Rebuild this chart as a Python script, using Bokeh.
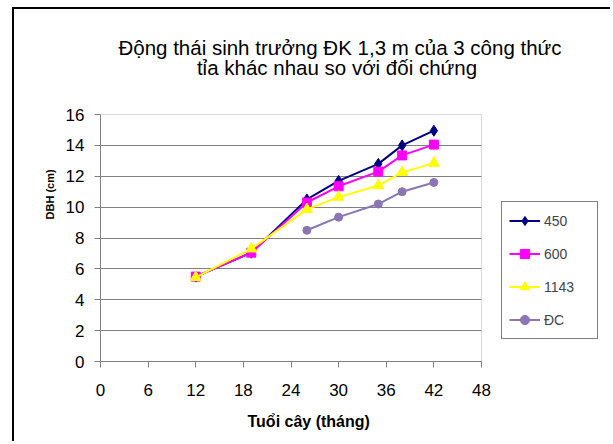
from bokeh.plotting import figure
from bokeh.models import (Range1d, FixedTicker, Legend, LegendItem, Title, Label,
                          BoxAnnotation)
from bokeh.embed import file_html
from bokeh.resources import INLINE

# ---- data ----
months = [12, 19, 26, 30, 35, 38, 42]
dbh_450 = [5.5, 7.05, 10.5, 11.7, 12.8, 14.0, 14.95]
dbh_600 = [5.5, 7.05, 10.3, 11.35, 12.3, 13.35, 14.05]
dbh_1143 = [5.45, 7.3, 9.85, 10.65, 11.4, 12.25, 12.85]
months_dc = [26, 30, 35, 38, 42]
dbh_dc = [8.5, 9.35, 10.2, 11.0, 11.6]
x_ticks = [0, 6, 12, 18, 24, 30, 36, 42, 48]
y_ticks = [0, 2, 4, 6, 8, 10, 12, 14, 16]
series_names = ["450", "600", "1143", "ĐC"]
title_lines = ["Động thái sinh trưởng ĐK 1,3 m của 3 công thức",
               "tỉa khác nhau so với đối chứng"]
x_title = "Tuổi cây (tháng)"
y_title = "DBH (cm)"

FONT = "Liberation Sans"

# ---- layout geometry (page pixels) ----
PLOT_L, PLOT_R, PLOT_T, PLOT_B = 100, 481, 114, 361   # plot area of the chart
CANVAS_X0, CANVAS_Y0 = 14, 9                           # canvas origin inside outer border
W, H = 598, 434
FRAME_R = CANVAS_X0 + W                                # frame runs to the canvas edge
FRAME_T = CANVAS_Y0
xmin, xmax = x_ticks[0], x_ticks[-1]
ymin, ymax = y_ticks[0], y_ticks[-1]
kx = (xmax - xmin) / (PLOT_R - PLOT_L)
ky = (ymax - ymin) / (PLOT_B - PLOT_T)
x_hi = xmin + (FRAME_R - PLOT_L) * kx
y_hi = ymin + (PLOT_B - FRAME_T) * ky


def dx(px):
    return xmin + (px - PLOT_L) * kx


def dy(py):
    return ymin + (PLOT_B - py) * ky


p = figure(width=W, height=H, output_backend="svg", toolbar_location=None, title=None,
           x_range=Range1d(xmin, x_hi), y_range=Range1d(ymin, y_hi),
           min_border_left=PLOT_L - CANVAS_X0, min_border_right=0,
           min_border_top=0, min_border_bottom=CANVAS_Y0 + H - PLOT_B)
p.styles = {"border-left": "2px solid black", "border-top": "2px solid black",
            "margin-left": "12px", "margin-top": "7px"}
p.background_fill_color = "white"
p.border_fill_color = "white"
p.outline_line_color = None

for ax, ticks in ((p.xaxis[0], x_ticks), (p.yaxis[0], y_ticks)):
    ax.ticker = FixedTicker(ticks=ticks)
    ax.bounds = (ticks[0], ticks[-1])
    ax.axis_line_color = "#808080"
    ax.major_tick_line_color = "#808080"
    ax.major_tick_out = 6
    ax.major_tick_in = 0
    ax.minor_tick_line_color = None
    ax.major_label_text_font = FONT
    ax.major_label_text_font_size = "17px"
    ax.major_label_text_color = "black"
p.xaxis.major_label_standoff = 16
p.yaxis.major_label_standoff = 10

p.xgrid.grid_line_color = None
p.ygrid.ticker = FixedTicker(ticks=y_ticks[1:-1])
p.ygrid.grid_line_color = "black"
p.ygrid.grid_line_dash = "1 1"
p.ygrid.grid_line_width = 1

# mask the grid outside the plot area, then draw the plot-area border
p.add_layout(BoxAnnotation(left=xmax, right=x_hi, bottom=ymin, top=ymax,
                           fill_color="white", fill_alpha=1, line_color=None,
                           level="underlay"))
p.add_layout(BoxAnnotation(left=xmin, right=xmax, bottom=ymin, top=ymax,
                           fill_alpha=0, line_color="#808080", line_width=1))

colors = ["#000080", "#FF00FF", "#FFFF00", "#8B75B2"]
xs = [months, months, months, months_dc]
ys = [dbh_450, dbh_600, dbh_1143, dbh_dc]
markers = ["diamond", "square", "triangle", "circle"]
sizes = [11, 9, 11, 8]

items = []
for name, c, x, y, m, s in zip(series_names, colors, xs, ys, markers, sizes):
    ln = p.line(x, y, line_color=c, line_width=2)
    sc = p.scatter(x, y, marker=m, size=s, fill_color=c, line_color=c)
    items.append(LegendItem(label=name, renderers=[ln, sc]))

legend = Legend(items=items, location=(501 - PLOT_L, PLOT_B - 339), orientation="vertical")
legend.border_line_color = "black"
legend.border_line_width = 1
legend.background_fill_color = "white"
legend.background_fill_alpha = 1
legend.padding = 7
legend.spacing = 10
legend.glyph_width = 31
legend.glyph_height = 23
legend.label_height = 23
legend.label_width = 46
legend.label_standoff = 4
legend.label_text_font = FONT
legend.label_text_font_size = "14px"
legend.margin = 0
p.add_layout(legend, "center")

p.add_layout(Label(x=dx(339.5), y=dy(46.7), text=title_lines[0],
                   text_align="center", text_baseline="alphabetic",
                   text_font=FONT, text_font_size="20.5px", text_color="black"))
p.add_layout(Label(x=dx(336.5), y=dy(66.7), text=title_lines[1],
                   text_align="center", text_baseline="alphabetic",
                   text_font=FONT, text_font_size="20.5px", text_color="black"))

p.add_layout(Title(text=x_title, align="left", offset=147, standoff=24,
                   text_font=FONT, text_font_size="16px", text_font_style="bold",
                   text_color="black"), "below")
p.add_layout(Title(text=y_title, align="left", offset=142, standoff=13,
                   text_font=FONT, text_font_size="11px", text_font_style="bold",
                   text_color="black"), "left")

open("out.html", "w").write(file_html(p, INLINE))
